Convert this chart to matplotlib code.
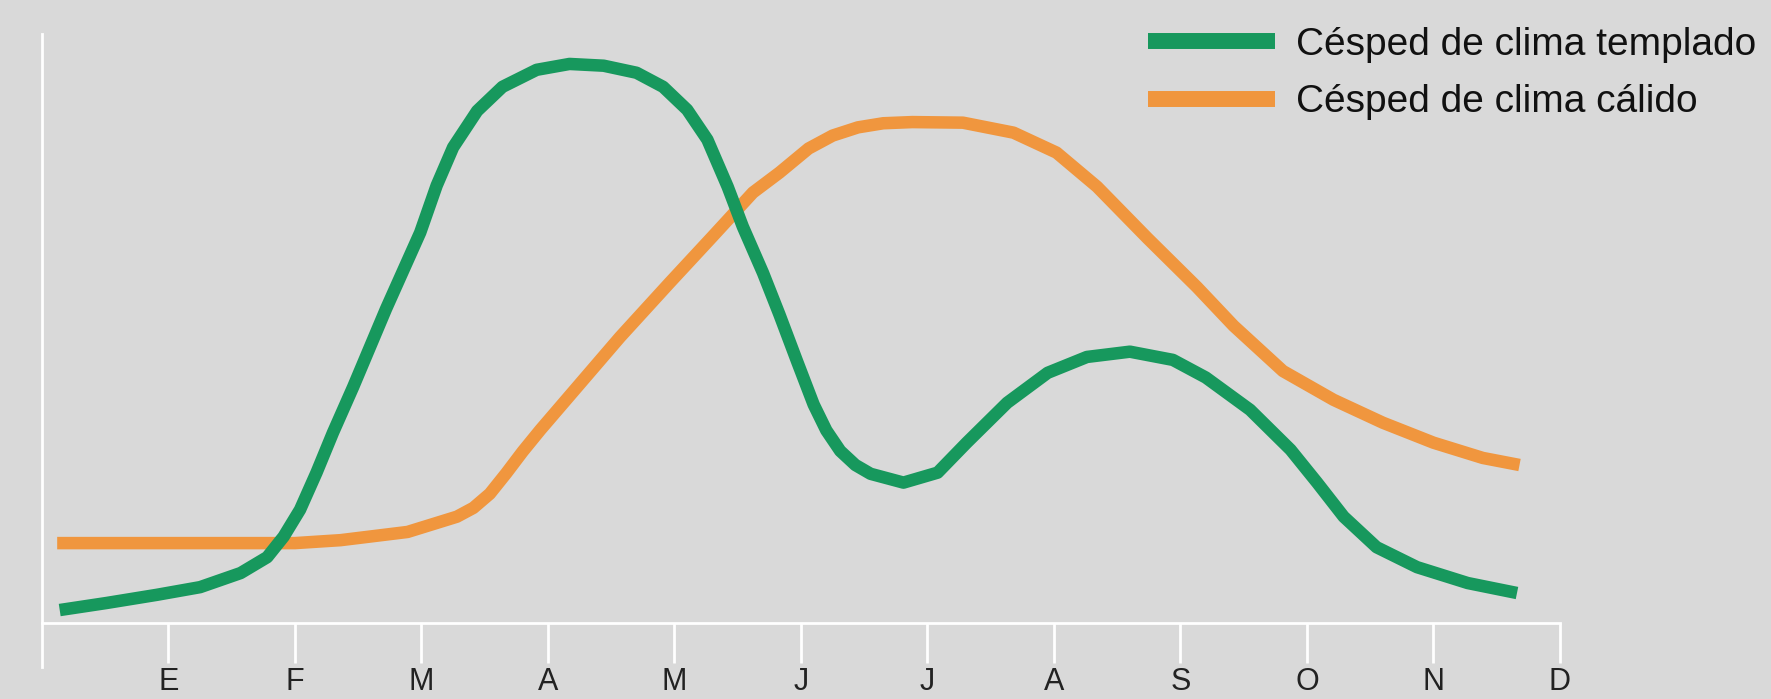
import matplotlib
matplotlib.use("Agg")
import matplotlib.pyplot as plt
import matplotlib.lines as mlines
from matplotlib import font_manager

# month axis (E = 1 ... D = 12), values in arbitrary units
months = ["E", "F", "M", "A", "M", "J", "J", "A", "S", "O", "N", "D"]

templado_x = [0.14, 0.51, 0.91, 1.25, 1.57, 1.78, 1.91, 2.04, 2.17, 2.30, 2.46, 2.72,
              2.99, 3.12, 3.25, 3.44, 3.64, 3.91, 4.17, 4.44, 4.70, 4.91, 5.10, 5.26,
              5.42, 5.54, 5.70, 5.83, 5.97, 6.10, 6.20, 6.31, 6.43, 6.55, 6.81, 7.08,
              7.31, 7.63, 7.95, 8.26, 8.60, 8.94, 9.20, 9.55, 9.87, 10.08, 10.29,
              10.55, 10.87, 11.27, 11.66]
templado_y = [2.2, 3.4, 4.8, 6.1, 8.5, 11.2, 14.7, 19.3, 25.6, 32.4, 40.2, 53.5,
              66.5, 74.5, 81.0, 87.2, 91.3, 94.2, 95.2, 94.9, 93.7, 91.3, 87.4, 82.3,
              74.3, 67.5, 59.6, 52.5, 44.5, 37.2, 32.8, 29.3, 26.9, 25.4, 23.9, 25.6,
              30.7, 37.5, 42.6, 45.3, 46.2, 44.8, 41.8, 36.3, 29.5, 23.9, 18.1,
              12.9, 9.5, 6.8, 5.1]

calido_x = [0.12, 1.00, 2.00, 2.36, 2.89, 3.28, 3.41, 3.54, 3.67, 3.80, 3.94, 4.57,
            4.96, 5.30, 5.62, 5.83, 6.06, 6.25, 6.45, 6.65, 6.88, 7.28, 7.68, 8.02,
            8.34, 8.74, 9.13, 9.42, 9.81, 10.21, 10.60, 11.00, 11.39, 11.68]
calido_y = [13.6, 13.6, 13.6, 14.1, 15.5, 18.1, 19.6, 22.0, 25.5, 29.2, 32.9, 48.7,
            57.9, 65.8, 73.3, 76.7, 80.8, 83.0, 84.4, 85.1, 85.3, 85.2, 83.5, 80.1,
            74.3, 65.5, 57.2, 50.6, 42.9, 38.0, 34.1, 30.7, 28.1, 26.9]

labels = ["Césped de clima templado", "Césped de clima cálido"]

GREEN = "#17985d"
ORANGE = "#f0963e"
BG = "#d9d9d9"

# narrow font if we have it, otherwise plain Liberation Sans a bit smaller
try:
    font_manager.findfont("Liberation Sans Narrow", fallback_to_default=False)
    family = ["Liberation Sans Narrow", "DejaVu Sans"]
    leg_size = 33
except Exception:
    family = ["Liberation Sans", "DejaVu Sans"]
    leg_size = 28
plt.rcParams["font.family"] = family

fig = plt.figure(figsize=(17.71, 6.99), dpi=100, facecolor=BG)
ax = fig.add_axes([42 / 1771, 32 / 699, 1518 / 1771, 633 / 699])
ax.set_facecolor(BG)

ax.plot(calido_x, calido_y, color=ORANGE, linewidth=9, solid_capstyle="butt",
        solid_joinstyle="round")
ax.plot(templado_x, templado_y, color=GREEN, linewidth=9, solid_capstyle="butt",
        solid_joinstyle="round")

ax.set_xlim(0, 12)
ax.set_ylim(-7.5, 100.3)

for s in ["top", "right"]:
    ax.spines[s].set_visible(False)
ax.spines["bottom"].set_position(("data", 0))
ax.spines["bottom"].set_color("white")
ax.spines["bottom"].set_linewidth(2)
ax.spines["left"].set_color("white")
ax.spines["left"].set_linewidth(2)

ax.set_xticks(range(1, 13))
ax.set_xticklabels(months)
ax.set_yticks([])
ax.tick_params(axis="x", direction="out", length=29, width=2, color="white",
               pad=3, labelsize=22, labelcolor="#222222")

# legend with thicker sample lines
h1 = mlines.Line2D([], [], color=GREEN, linewidth=11.5, solid_capstyle="butt")
h2 = mlines.Line2D([], [], color=ORANGE, linewidth=11.5, solid_capstyle="butt")
fig.legend(handles=[h1, h2], labels=labels, loc="upper left",
           bbox_to_anchor=(1148 / 1771, 1 - 27 / 699), frameon=False,
           fontsize=leg_size, handlelength=3.26, handletextpad=0.55,
           labelspacing=0.55, borderpad=0, borderaxespad=0, labelcolor="#111111")

fig.savefig("out.png", dpi=100, facecolor=BG)
